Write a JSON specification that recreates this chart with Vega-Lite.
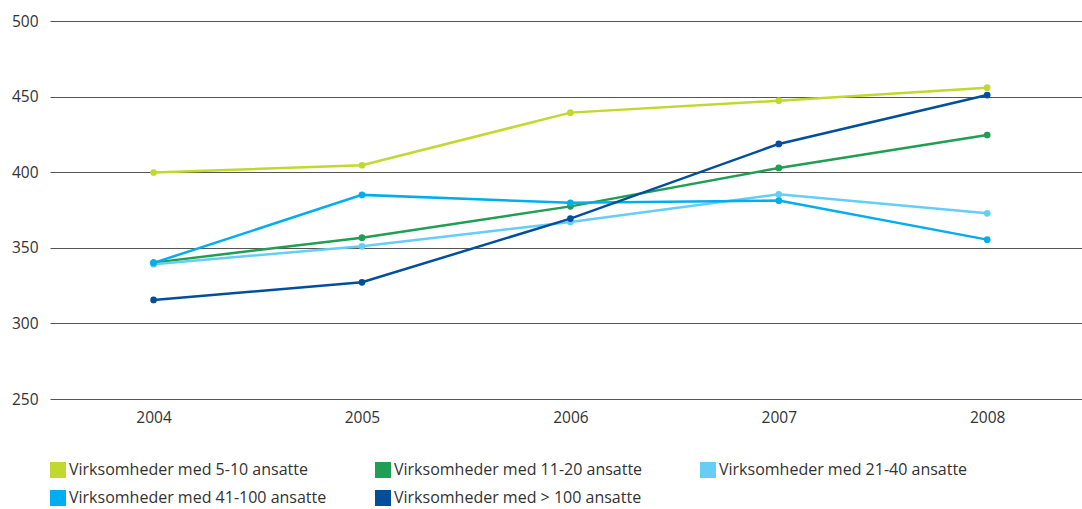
{
  "$schema": "https://vega.github.io/schema/vega-lite/v6.json",
  "width": 1032,
  "height": 378,
  "autosize": {"type": "none"},
  "padding": {"left": 50, "top": 21, "right": 0, "bottom": 110},
  "background": "white",
  "config": {
    "view": {"stroke": null},
    "font": "Open Sans"
  },
  "data": {
    "values": [
      {"year": 2004, "series": "Virksomheder med 5-10 ansatte", "value": 399.8},
      {"year": 2005, "series": "Virksomheder med 5-10 ansatte", "value": 404.6},
      {"year": 2006, "series": "Virksomheder med 5-10 ansatte", "value": 439.4},
      {"year": 2007, "series": "Virksomheder med 5-10 ansatte", "value": 447.3},
      {"year": 2008, "series": "Virksomheder med 5-10 ansatte", "value": 455.9},
      {"year": 2004, "series": "Virksomheder med 11-20 ansatte", "value": 340.2},
      {"year": 2005, "series": "Virksomheder med 11-20 ansatte", "value": 356.7},
      {"year": 2006, "series": "Virksomheder med 11-20 ansatte", "value": 377.4},
      {"year": 2007, "series": "Virksomheder med 11-20 ansatte", "value": 402.8},
      {"year": 2008, "series": "Virksomheder med 11-20 ansatte", "value": 424.6},
      {"year": 2004, "series": "Virksomheder med 21-40 ansatte", "value": 339.2},
      {"year": 2005, "series": "Virksomheder med 21-40 ansatte", "value": 351.0},
      {"year": 2006, "series": "Virksomheder med 21-40 ansatte", "value": 367.0},
      {"year": 2007, "series": "Virksomheder med 21-40 ansatte", "value": 385.4},
      {"year": 2008, "series": "Virksomheder med 21-40 ansatte", "value": 372.8},
      {"year": 2004, "series": "Virksomheder med 41-100 ansatte", "value": 340.0},
      {"year": 2005, "series": "Virksomheder med 41-100 ansatte", "value": 385.0},
      {"year": 2006, "series": "Virksomheder med 41-100 ansatte", "value": 379.8},
      {"year": 2007, "series": "Virksomheder med 41-100 ansatte", "value": 381.2},
      {"year": 2008, "series": "Virksomheder med 41-100 ansatte", "value": 355.4},
      {"year": 2004, "series": "Virksomheder med > 100 ansatte", "value": 315.5},
      {"year": 2005, "series": "Virksomheder med > 100 ansatte", "value": 327.2},
      {"year": 2006, "series": "Virksomheder med > 100 ansatte", "value": 369.3},
      {"year": 2007, "series": "Virksomheder med > 100 ansatte", "value": 418.7},
      {"year": 2008, "series": "Virksomheder med > 100 ansatte", "value": 451.0}
    ]
  },
  "encoding": {
    "x": {
      "field": "year", "type": "quantitative",
      "scale": {"domain": [2003.503, 2008.455], "nice": false, "zero": false},
      "axis": {"values": [2004, 2005, 2006, 2007, 2008], "format": "d", "title": null, "grid": false, "domain": false, "ticks": false, "labelPadding": 11, "labelFlush": false, "labelFontSize": 15.5, "labelColor": "#333333", "labelFont": "Open Sans"}
    },
    "y": {
      "field": "value", "type": "quantitative",
      "scale": {"domain": [250, 500], "nice": false, "zero": false},
      "axis": {"values": [250, 300, 350, 400, 450, 500], "title": null, "grid": true, "gridColor": "#555555", "gridWidth": 1, "gridOpacity": 1, "domain": false, "ticks": false, "labelPadding": 12, "labelFontSize": 15.5, "labelColor": "#333333", "labelFont": "Open Sans"}
    },
    "color": {
      "field": "series", "type": "nominal",
      "scale": {
        "domain": ["Virksomheder med 5-10 ansatte", "Virksomheder med 11-20 ansatte", "Virksomheder med 21-40 ansatte", "Virksomheder med 41-100 ansatte", "Virksomheder med > 100 ansatte"],
        "range": ["#c1d82f", "#1f9e54", "#66cdf5", "#00aeef", "#004f9c"]
      },
      "legend": {
        "title": null, "orient": "bottom", "direction": "horizontal", "columns": 3,
        "symbolType": "square", "symbolSize": 256, "symbolStrokeWidth": 0, "symbolOpacity": 1,
        "labelFontSize": 16, "labelColor": "#333333", "labelFont": "Open Sans", "labelLimit": 0,
        "gridAlign": "all", "columnPadding": 48, "rowPadding": 12, "labelOffset": 3,
        "offset": 36
      }
    }
  },
  "layer": [
    {"mark": {"type": "line", "strokeWidth": 2.5}},
    {"mark": {"type": "point", "filled": true, "size": 45, "opacity": 1}}
  ]
}
